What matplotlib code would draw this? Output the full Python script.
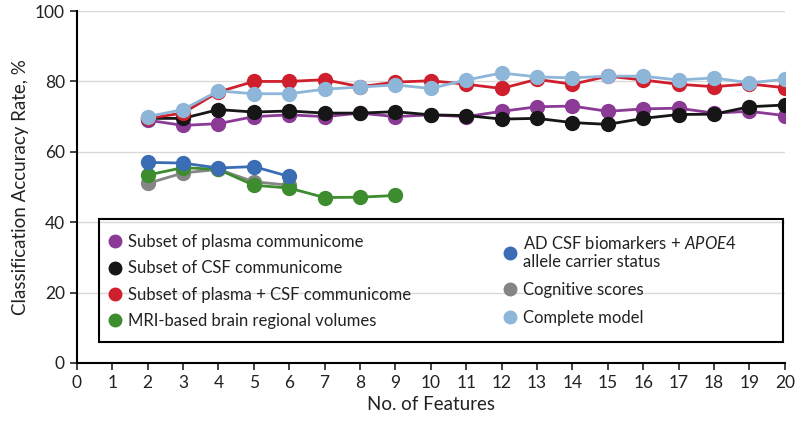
import matplotlib.pyplot as plt
from matplotlib.lines import Line2D
from matplotlib.patches import Rectangle

plt.rcParams['font.family'] = ['Lato', 'DejaVu Sans']
plt.rcParams['mathtext.fontset'] = 'custom'
plt.rcParams['mathtext.it'] = 'Lato:italic'
plt.rcParams['mathtext.rm'] = 'Lato'

# number of features for each model
x_long = list(range(2, 21))
x_csf = [2, 3, 4, 5, 6]
x_mri = [2, 3, 4, 5, 6, 7, 8, 9]
x_cog = [2, 3, 4, 5, 6]

plasma = [69, 67.5, 68, 70, 70.5, 70, 71, 70, 70.5, 70, 71.5, 72.8, 73, 71.5, 72.2, 72.4, 71, 71.5, 70.3]
csf = [69.5, 69.5, 72, 71.3, 71.6, 71, 71, 71.4, 70.5, 70.3, 69.3, 69.5, 68.3, 67.8, 69.5, 70.6, 70.7, 72.8, 73.3]
plasma_csf = [69.5, 71, 77, 80, 80, 80.5, 78.5, 79.8, 80.2, 79.2, 78, 80.6, 79.2, 81.5, 80.4, 79.2, 78.5, 79.3, 78.2]
complete = [70, 72, 77.3, 76.5, 76.5, 77.8, 78.4, 79, 78, 80.4, 82.4, 81.3, 81, 81.5, 81.5, 80.4, 81, 79.6, 80.6]
ad_csf = [57, 56.8, 55.4, 55.8, 53]
mri = [53.4, 55.5, 55, 50.5, 49.7, 47, 47.1, 47.6]
cognitive = [51, 54, 55, 51.5, 50.5]

c_plasma = '#8b3a96'
c_csf = '#161616'
c_pc = '#d01f2c'
c_mri = '#3d8c2e'
c_ad = '#3a6db4'
c_cog = '#858585'
c_comp = '#8db6d9'

fig = plt.figure(figsize=(8, 4.25), dpi=100)
ax = fig.add_axes([0.096, 0.146, 0.885, 0.828])

ms = 10
ax.plot(x_cog, cognitive, '-o', color=c_cog, lw=2, ms=ms, zorder=3)
ax.plot(x_mri, mri, '-o', color=c_mri, lw=2, ms=ms, zorder=4)
ax.plot(x_csf, ad_csf, '-o', color=c_ad, lw=2, ms=ms, zorder=5)
ax.plot(x_long, plasma, '-o', color=c_plasma, lw=2, ms=ms, zorder=3)
ax.plot(x_long, csf, '-o', color=c_csf, lw=2, ms=ms, zorder=4)
ax.plot(x_long, plasma_csf, '-o', color=c_pc, lw=2, ms=ms, zorder=5)
ax.plot(x_long, complete, '-o', color=c_comp, lw=2, ms=ms, zorder=6)

ax.set_xlim(0, 20)
ax.set_ylim(0, 100)
ax.set_xticks(range(0, 21))
ax.set_yticks(range(0, 101, 20))
for y in range(20, 101, 20):
    ax.axhline(y, color='#d9d9d9', lw=1, zorder=0)
ax.spines['top'].set_visible(False)
ax.spines['right'].set_visible(False)
ax.spines['left'].set_linewidth(1.5)
ax.spines['bottom'].set_linewidth(1.5)
ax.tick_params(direction='out', length=5, width=1.2, labelsize=12.5, colors='#222222')
ax.set_xlabel('No. of Features', fontsize=13.5, color='#222222')
ax.set_ylabel('Classification Accuracy Rate, %', fontsize=13.5, color='#222222')

labels1 = ['Subset of plasma communicome', 'Subset of CSF communicome',
           'Subset of plasma + CSF communicome', 'MRI-based brain regional volumes']
colors1 = [c_plasma, c_csf, c_pc, c_mri]
labels2 = ['AD CSF biomarkers + $\\it{APOE4}$\nallele carrier status', 'Cognitive scores',
           'Complete model']
colors2 = [c_ad, c_cog, c_comp]

handles1 = [Line2D([], [], ls='', marker='o', ms=9, color=c) for c in colors1]
handles2 = [Line2D([], [], ls='', marker='o', ms=9, color=c) for c in colors2]
common = dict(loc='upper left', fontsize=12, frameon=False, handletextpad=0.3,
              handlelength=1.0, borderaxespad=0, borderpad=0)
leg1 = ax.legend(handles1, labels1, bbox_to_anchor=(0.042, 0.366),
                 labelspacing=0.62, **common)
ax.add_artist(leg1)
leg2 = ax.legend(handles2, labels2, bbox_to_anchor=(0.6, 0.365),
                 labelspacing=0.72, **common)
for leg in (leg1, leg2):
    for t in leg.get_texts():
        t.set_color('#222222')

ax.add_patch(Rectangle((0.032, 0.06), 0.966, 0.35, transform=ax.transAxes,
                       fill=False, edgecolor='black', lw=1.5, zorder=7))

fig.savefig('out.png', dpi=100)
